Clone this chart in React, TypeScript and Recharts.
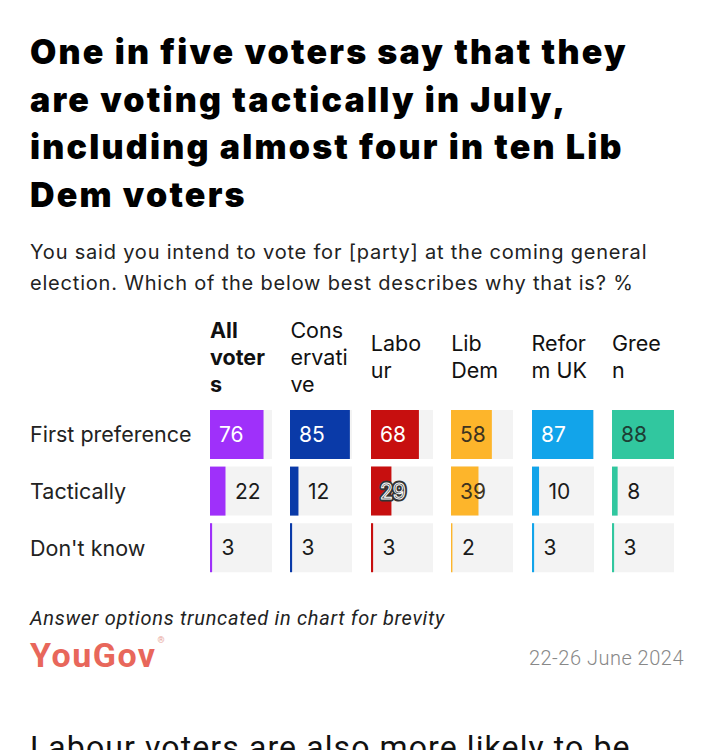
import { BarChart, Bar, XAxis, YAxis, LabelList } from 'recharts';

const parties = ['All voters', 'Conservative', 'Labour', 'Lib Dem', 'Reform UK', 'Green'];
const answers = ['First preference', 'Tactically', "Don't know"];

const allVoters = [76, 22, 3];
const conservative = [85, 12, 3];
const labour = [68, 29, 3];
const libDem = [58, 39, 2];
const reformUk = [87, 10, 3];
const green = [88, 8, 3];

const partyValues = [allVoters, conservative, labour, libDem, reformUk, green];
const partyColors = ['#9f30fa', '#0a3aa8', '#c70f0f', '#fdb52b', '#12a4ea', '#31c79f'];
const insideTextColors = ['#ffffff', '#ffffff', '#ffffff', '#3d3320', '#ffffff', '#1d3f35'];

const MAX = Math.max(...partyValues.flat());

const COL_X0 = 210;
const COL_PITCH = 80.4;
const CELL_W = 62;
const ROW_PITCH = 56.6;
const BAR_H = 49;
const CHART_TOP = 406.2;
const CHART_H = ROW_PITCH * 3;
const DIGIT_W = 11.5;

const sans = 'Inter, "Noto Sans", sans-serif';
const narrow = 'Roboto, "Noto Sans", sans-serif';

function ValueLabel(props: any) {
  const { x, y, width, height, value, textColor } = props;
  const cy = Number(y) + Number(height) / 2;
  const w = Number(width);
  const textW = String(value).length * DIGIT_W;
  const common = {
    y: cy,
    dominantBaseline: 'central' as const,
    fontFamily: sans,
    fontSize: 21,
  };
  if (w >= 18) {
    const lx = Number(x) + 9;
    const overflow = textW + 9 > w;
    if (overflow && textColor === '#ffffff') {
      return (
        <g>
          <text x={lx} {...common} fill="#333" stroke="#333" strokeWidth={5} strokeLinejoin="round">
            {value}
          </text>
          <text x={lx} {...common} fill="#333" stroke="#fff" strokeWidth={1}>
            {value}
          </text>
        </g>
      );
    }
    return (
      <text x={lx} {...common} fill={textColor}>
        {value}
      </text>
    );
  }
  return (
    <text x={Number(x) + w + 9.5} {...common} fill="#1a1a1a">
      {value}
    </text>
  );
}

function PartyColumn({ idx }: { idx: number }) {
  const data = answers.map((answer, i) => ({ answer, value: partyValues[idx][i] }));
  return (
    <BarChart
      layout="vertical"
      width={CELL_W}
      height={CHART_H}
      data={data}
      margin={{ top: 0, right: 0, bottom: 0, left: 0 }}
    >
      <XAxis type="number" domain={[0, MAX]} hide />
      <YAxis type="category" dataKey="answer" hide />
      <Bar
        dataKey="value"
        fill={partyColors[idx]}
        barSize={BAR_H}
        background={{ fill: '#f3f3f3' }}
        isAnimationActive={false}
      >
        <LabelList
          dataKey="value"
          content={(p: any) => <ValueLabel {...p} textColor={insideTextColors[idx]} />}
        />
      </Bar>
    </BarChart>
  );
}

export default function App() {
  return (
    <div
      style={{
        position: 'absolute',
        left: 0,
        top: 0,
        width: 713,
        height: 750,
        overflow: 'hidden',
        background: '#fff',
        color: '#111',
      }}
    >
      <div
        style={{
          position: 'absolute',
          left: 30,
          top: 28,
          width: 640,
          fontFamily: sans,
          fontWeight: 900,
          fontSize: 34,
          lineHeight: '47.7px',
          letterSpacing: 2.2,
          color: '#000',
        }}
      >
        One in five voters say that they are voting tactically in July, including almost four in ten Lib
        Dem voters
      </div>
      <div
        style={{
          position: 'absolute',
          left: 30,
          top: 236.5,
          width: 670,
          fontFamily: sans,
          fontSize: 20,
          lineHeight: '31px',
          letterSpacing: 0.8,
          color: '#222',
        }}
      >
        You said you intend to vote for [party] at the coming general election. Which of the below best
        describes why that is? %
      </div>

      {parties.map((p, i) => (
        <div
          key={p}
          style={{
            position: 'absolute',
            left: COL_X0 + i * COL_PITCH,
            top: 316,
            width: 62,
            height: 82,
            display: 'flex',
            alignItems: 'center',
          }}
        >
          <div
            style={{
              width: 60,
              fontFamily: sans,
              fontSize: 21.5,
              lineHeight: '27px',
              fontWeight: i === 0 ? 700 : 400,
              overflowWrap: 'anywhere',
              color: '#111',
            }}
          >
            {p}
          </div>
        </div>
      ))}

      {answers.map((a, i) => (
        <div
          key={a}
          style={{
            position: 'absolute',
            left: 30,
            top: CHART_TOP + i * ROW_PITCH,
            height: ROW_PITCH,
            display: 'flex',
            alignItems: 'center',
            fontFamily: sans,
            fontSize: 21.5,
            color: '#222',
            whiteSpace: 'nowrap',
          }}
        >
          {a}
        </div>
      ))}

      {parties.map((p, i) => (
        <div
          key={p}
          style={{ position: 'absolute', left: COL_X0 + i * COL_PITCH, top: CHART_TOP }}
        >
          <PartyColumn idx={i} />
        </div>
      ))}

      <div
        style={{
          position: 'absolute',
          left: 30,
          top: 606,
          fontFamily: narrow,
          fontStyle: 'italic',
          fontSize: 20,
          letterSpacing: 0.7,
          color: '#222',
        }}
      >
        Answer options truncated in chart for brevity
      </div>
      <div
        style={{
          position: 'absolute',
          left: 30,
          top: 635,
          fontFamily: narrow,
          fontWeight: 700,
          fontSize: 34,
          letterSpacing: 1.5,
          color: '#e8675b',
        }}
      >
        YouGov<span style={{ fontSize: 9, verticalAlign: 'top', color: '#e8a59e', marginLeft: 1 }}>®</span>
      </div>
      <div
        style={{
          position: 'absolute',
          right: 29,
          top: 646,
          fontFamily: narrow,
          fontWeight: 300,
          fontSize: 20,
          letterSpacing: 0.5,
          color: '#888',
        }}
      >
        22-26 June 2024
      </div>
      <div
        style={{
          position: 'absolute',
          left: 30,
          top: 728,
          fontFamily: narrow,
          fontSize: 32,
          letterSpacing: 1.1,
          color: '#111',
          whiteSpace: 'nowrap',
        }}
      >
        Labour voters are also more likely to be
      </div>
    </div>
  );
}
